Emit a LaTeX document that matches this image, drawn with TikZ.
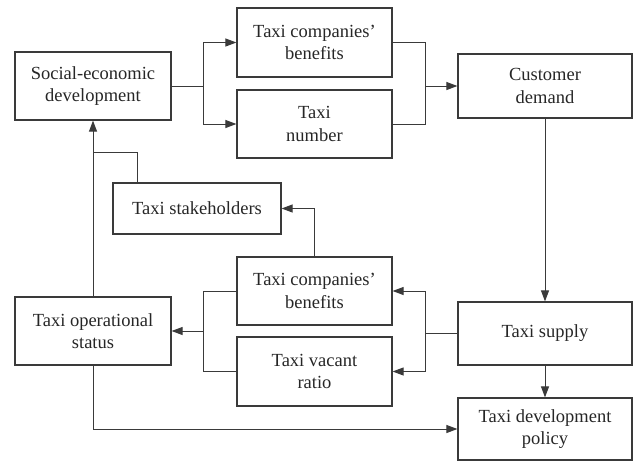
\documentclass[tikz,border=0pt]{standalone}
\usepackage{fontspec}
\setmainfont{Liberation Serif}
\usetikzlibrary{arrows.meta}
\definecolor{ln}{HTML}{3A3A3A}
\tikzset{
  box/.style={draw=ln, line width=1.2pt, rectangle, align=center, inner sep=0pt,
    font=\fontsize{18.5}{22.5}\selectfont, text=black!85},
  conn/.style={draw=ln, line width=1pt},
  arr/.style={conn, -{Triangle[length=11pt,width=8pt]}}
}
\begin{document}
\begin{tikzpicture}[x=1pt,y=-1pt]
\useasboundingbox (0,0) rectangle (637,461);
\node[box, minimum width=156pt, minimum height=68pt] (soc) at (93,86) {Social-economic\\development};
\node[box, minimum width=155pt, minimum height=69pt] (tcb1) at (314.5,42.5) {Taxi companies'\\benefits};
\node[box, minimum width=155pt, minimum height=68pt] (tn) at (314.5,124) {Taxi\\number};
\node[box, minimum width=174pt, minimum height=64pt] (cd) at (545,86) {Customer\\demand};
\node[box, minimum width=168pt, minimum height=51pt] (ts) at (197,208.5) {Taxi stakeholders};
\node[box, minimum width=155pt, minimum height=68pt] (tcb2) at (314.5,291) {Taxi companies'\\benefits};
\node[box, minimum width=155pt, minimum height=69pt] (tvr) at (314.5,371.5) {Taxi vacant\\ratio};
\node[box, minimum width=156pt, minimum height=68pt] (tos) at (93,331) {Taxi operational\\status};
\node[box, minimum width=174pt, minimum height=63pt] (sup) at (545,333.5) {Taxi supply};
\node[box, minimum width=174pt, minimum height=62pt] (pol) at (545,429) {Taxi development\\policy};
\coordinate (j1) at (203,86);
\coordinate (j2) at (425,86);
\coordinate (j3) at (425,333.5);
\coordinate (j4) at (203,331);
\coordinate (j5) at (93,152);
% top fan-out
\draw[conn] (soc.east) -- (j1);
\draw[arr] (j1) |- (tcb1.west);
\draw[arr] (j1) |- (tn.west);
\draw[conn] (tcb1.east) -| (j2);
\draw[conn] (tn.east) -| (j2);
\draw[arr] (j2) -- (cd.west);
\draw[arr] (cd.south) -- (sup.north);
% bottom fan-out
\draw[conn] (sup.west) -- (j3);
\draw[arr] (j3) |- (tcb2.east);
\draw[arr] (j3) |- (tvr.east);
\draw[conn] (tcb2.west) -| (j4);
\draw[conn] (tvr.west) -| (j4);
\draw[arr] (j4) -- (tos.east);
\draw[arr] (sup.south) -- (pol.north);
\draw[arr] (tos.south) |- (pol.west);
\draw[arr] (tos.north) -- (soc.south);
\draw[conn] ([xshift=25pt]ts.north west) |- (j5);
\draw[arr] (tcb2.north) |- (ts.east);
\end{tikzpicture}
\end{document}
